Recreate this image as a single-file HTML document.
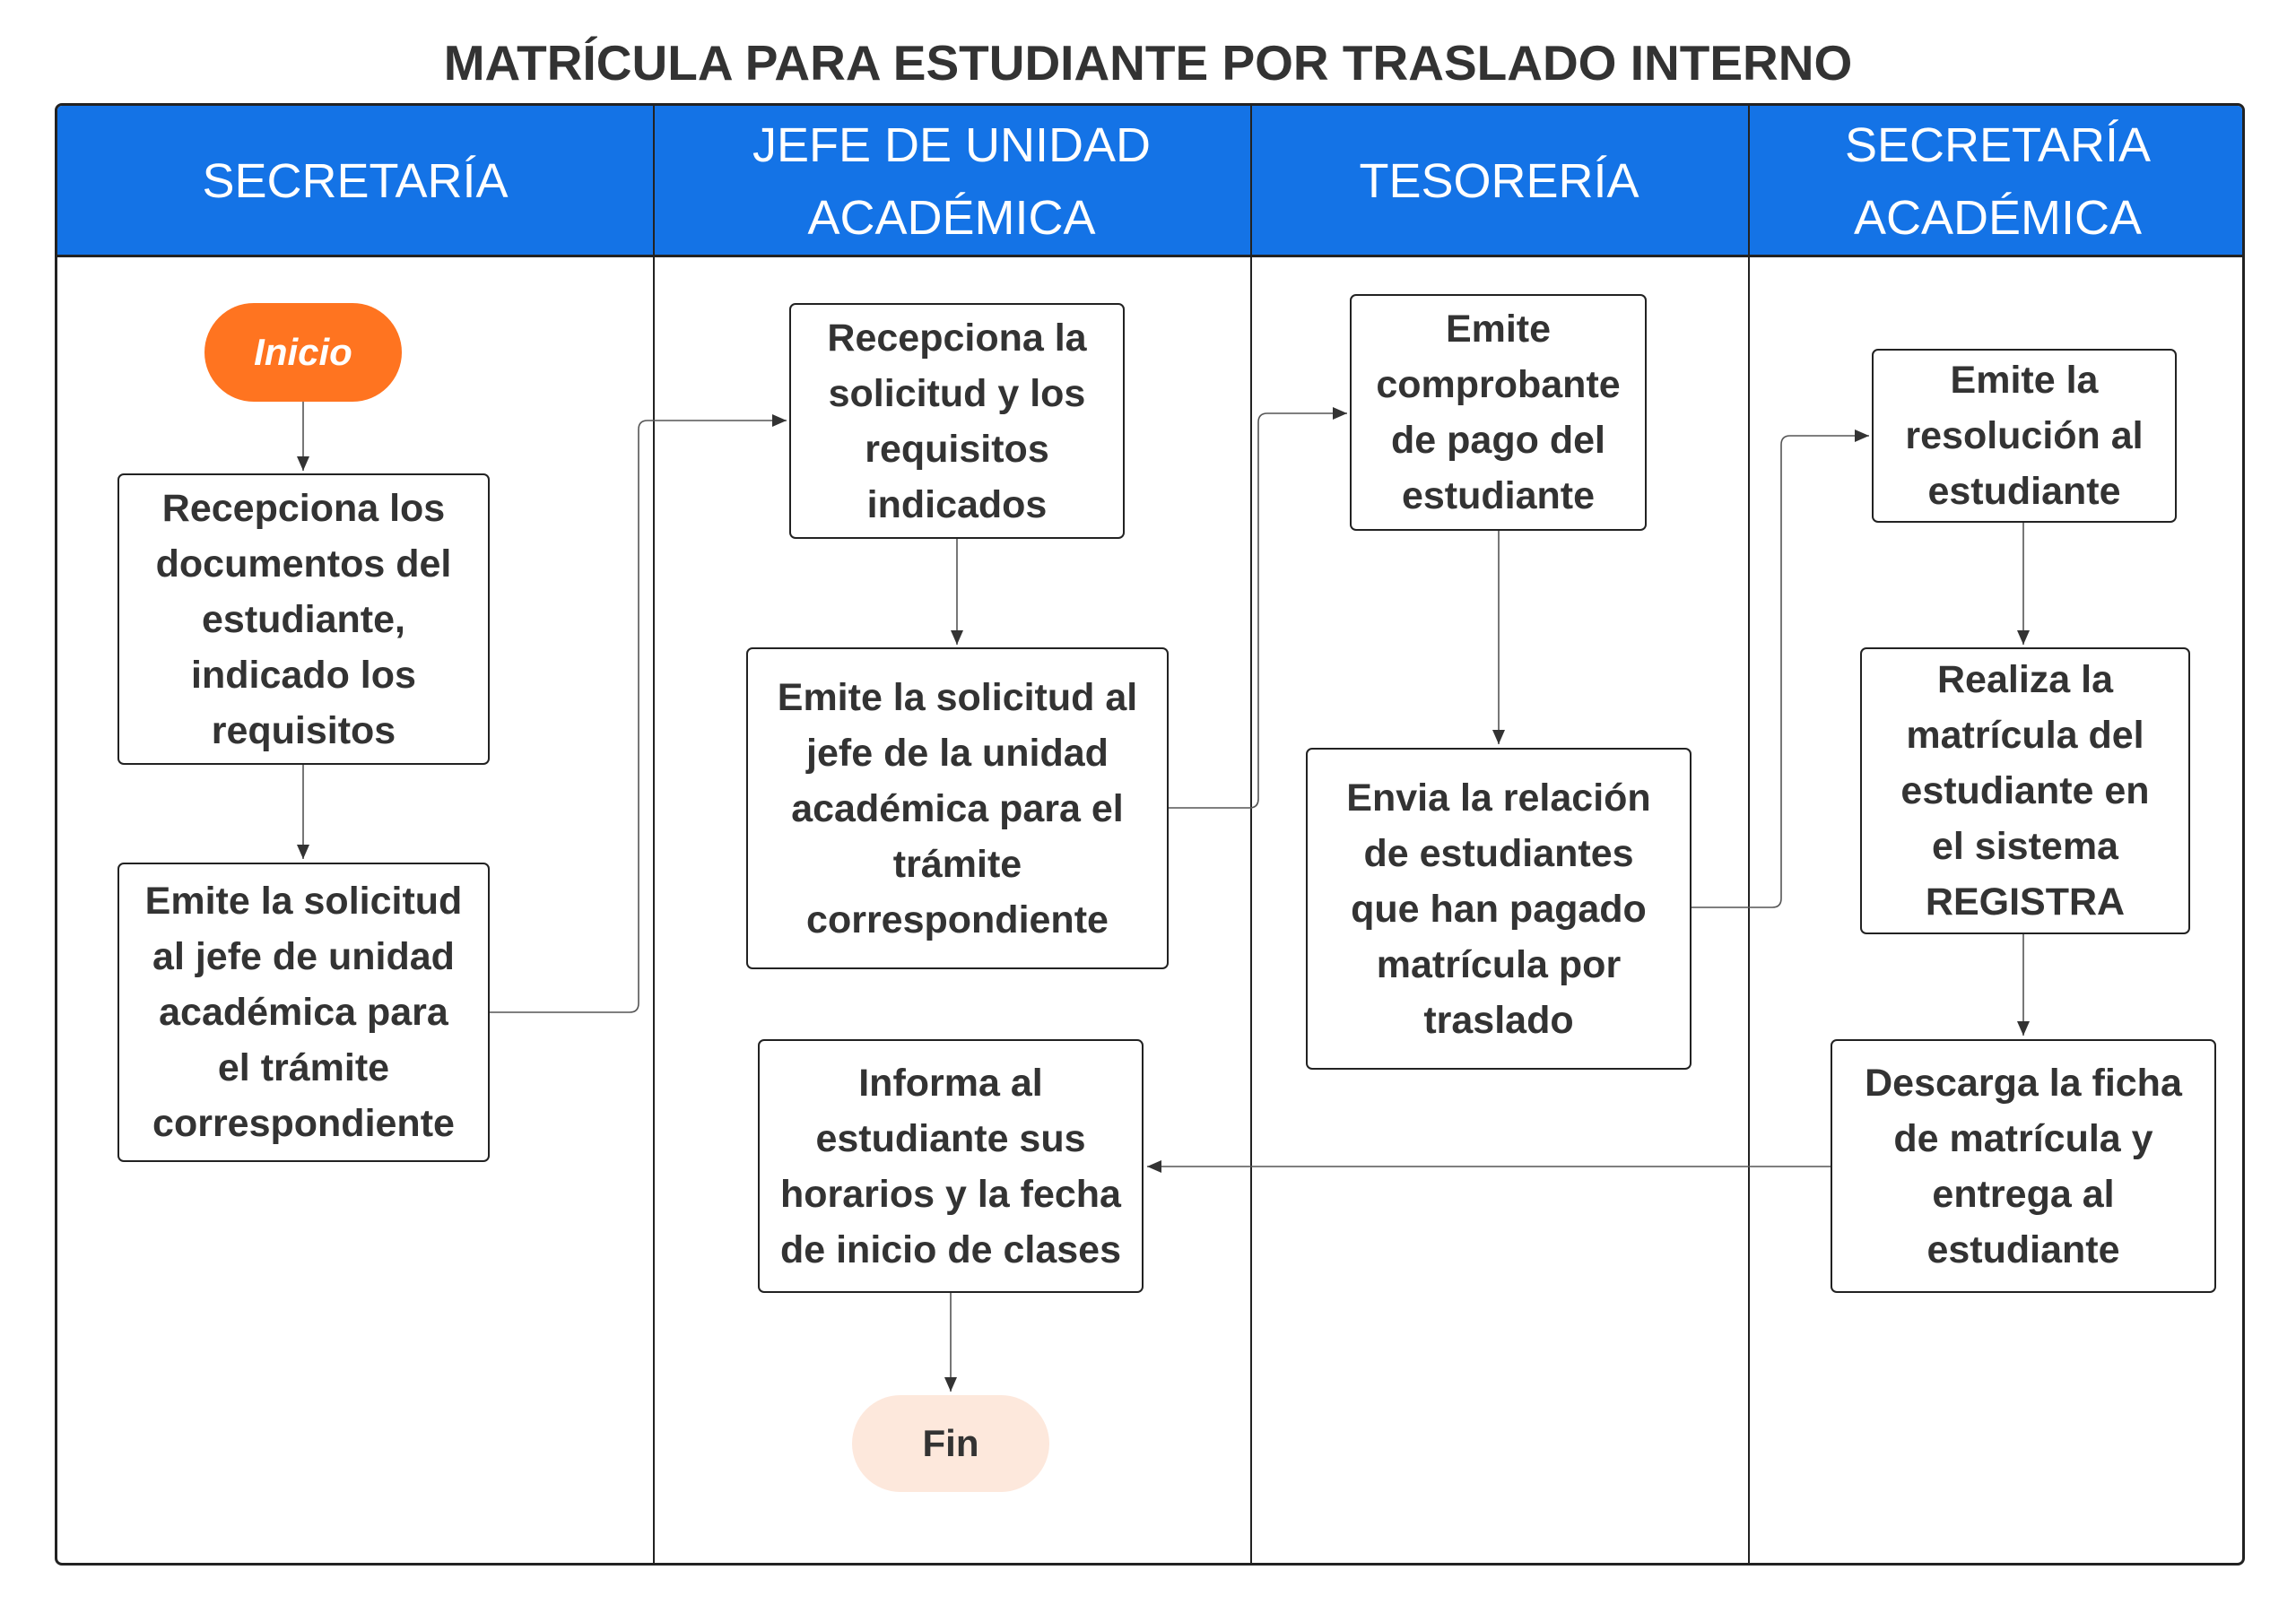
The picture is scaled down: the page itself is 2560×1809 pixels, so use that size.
<!DOCTYPE html>
<html><head><meta charset="utf-8"><style>
*{margin:0;padding:0;box-sizing:border-box}
body{width:2560px;height:1809px;background:#fff;position:relative;overflow:hidden;font-family:"Liberation Sans",sans-serif;color:#333}
.t{position:absolute;left:0;width:2560px;top:38px;text-align:center;font-weight:bold;font-size:55px;color:#333}
.frame{position:absolute;left:61px;top:115px;width:2442px;height:1631px;border:3px solid #222;border-radius:8px;overflow:hidden}
.hdr{position:absolute;left:0;top:0;width:100%;height:169px;background:#1473e6;border-bottom:3px solid #222}
.lane{position:absolute;top:0;height:100%;border-left:2.5px solid #222}
.h{position:absolute;top:0;height:169px;display:flex;align-items:center;justify-content:center;text-align:center;color:#fff;font-size:54px;line-height:81px}
.b{position:absolute;border:2.5px solid #222;border-radius:7px;background:#fff;display:flex;align-items:center;justify-content:center;text-align:center;font-weight:bold;font-size:43px;line-height:62px;color:#333}
.p{position:absolute;border-radius:60px;display:flex;align-items:center;justify-content:center;font-weight:bold;font-size:42px}
svg{position:absolute;left:0;top:0}
</style></head><body>
<div class="t">MATRÍCULA PARA ESTUDIANTE POR TRASLADO INTERNO</div>
<div class="frame">
<div class="hdr"></div>
<div class="lane" style="left:664px"></div>
<div class="lane" style="left:1330px"></div>
<div class="lane" style="left:1885px"></div>
<div class="h" style="left:0;width:664px">SECRETARÍA</div>
<div class="h" style="left:664px;width:666px">JEFE DE UNIDAD<br>ACADÉMICA</div>
<div class="h" style="left:1330px;width:555px">TESORERÍA</div>
<div class="h" style="left:1885px;width:557px">SECRETARÍA<br>ACADÉMICA</div>
</div>
<svg width="2560" height="1809">
<defs>
<marker id="m" markerWidth="16" markerHeight="20" refX="16" refY="10" orient="auto" markerUnits="userSpaceOnUse"><path d="M0,3 L16,10 L0,17 z" fill="#333"/></marker></defs>
<g fill="none" stroke="#555" stroke-width="1.6" marker-end="url(#m)">
<path d="M338,448 V525"/>
<path d="M338,853 V958"/>
<path d="M546,1129 H702 Q712,1129 712,1119 V479 Q712,469 722,469 H877"/>
<path d="M1067,601 V719"/>
<path d="M1303,901 H1393 Q1403,901 1403,891 V471 Q1403,461 1413,461 H1502"/>
<path d="M1671,592 V830"/>
<path d="M1886,1012 H1976 Q1986,1012 1986,1002 V496 Q1986,486 1996,486 H2084"/>
<path d="M2256,583 V719"/>
<path d="M2256,1042 V1155"/>
<path d="M2041,1301 H1279"/>
<path d="M1060,1442 V1552"/>
</g>
</svg>
<div class="p" style="left:228px;top:338px;width:220px;height:110px;background:#ff7420;color:#fff;font-style:italic">Inicio</div>
<div class="p" style="left:950px;top:1556px;width:220px;height:108px;background:#fde8dc;color:#333">Fin</div>
<div class="b" style="left:131px;top:528px;width:415px;height:325px">Recepciona los<br>documentos del<br>estudiante,<br>indicado los<br>requisitos</div>
<div class="b" style="left:131px;top:962px;width:415px;height:334px">Emite la solicitud<br>al jefe de unidad<br>académica para<br>el trámite<br>correspondiente</div>
<div class="b" style="left:880px;top:338px;width:374px;height:263px">Recepciona la<br>solicitud y los<br>requisitos<br>indicados</div>
<div class="b" style="left:832px;top:722px;width:471px;height:359px">Emite la solicitud al<br>jefe de la unidad<br>académica para el<br>trámite<br>correspondiente</div>
<div class="b" style="left:845px;top:1159px;width:430px;height:283px">Informa al<br>estudiante sus<br>horarios y la fecha<br>de inicio de clases</div>
<div class="b" style="left:1505px;top:328px;width:331px;height:264px">Emite<br>comprobante<br>de pago del<br>estudiante</div>
<div class="b" style="left:1456px;top:834px;width:430px;height:359px">Envia la relación<br>de estudiantes<br>que han pagado<br>matrícula por<br>traslado</div>
<div class="b" style="left:2087px;top:389px;width:340px;height:194px">Emite la<br>resolución al<br>estudiante</div>
<div class="b" style="left:2074px;top:722px;width:368px;height:320px">Realiza la<br>matrícula del<br>estudiante en<br>el sistema<br>REGISTRA</div>
<div class="b" style="left:2041px;top:1159px;width:430px;height:283px">Descarga la ficha<br>de matrícula y<br>entrega al<br>estudiante</div>
</body></html>
